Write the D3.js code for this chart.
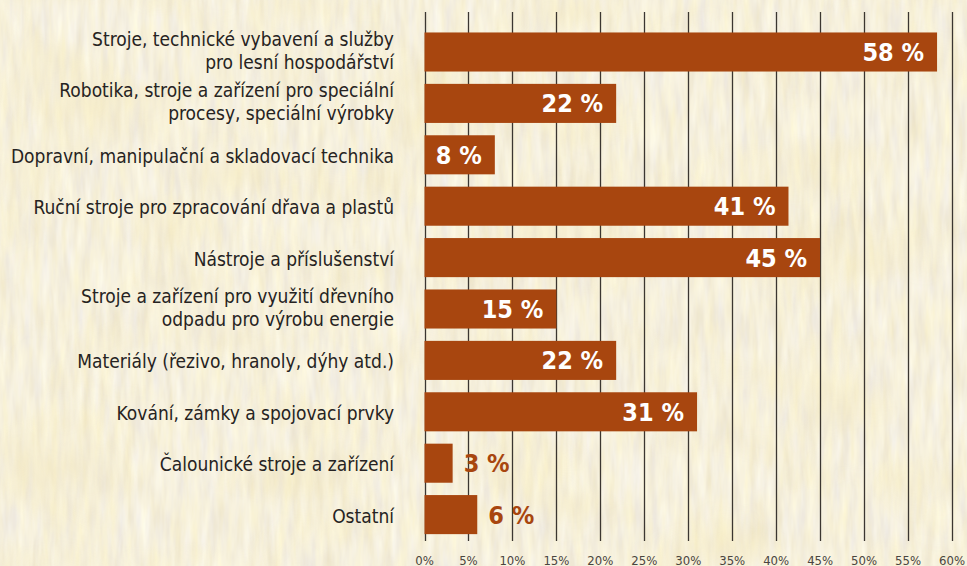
<!DOCTYPE html>
<html>
<head>
<meta charset="utf-8">
<script src="https://cdn.jsdelivr.net/npm/d3@7"></script>
<style>
  html, body { margin: 0; padding: 0; overflow: hidden; }
  svg { display: block; }
</style>
</head>
<body>
<div id="chart"></div>
<script>
var categories = [
    "Stroje, technické vybavení a služby\npro lesní hospodářství",
    "Robotika, stroje a zařízení pro speciální\nprocesy, speciální výrobky",
    "Dopravní, manipulační a skladovací technika",
    "Ruční stroje pro zpracování dřava a plastů",
    "Nástroje a příslušenství",
    "Stroje a zařízení pro využití dřevního\nodpadu pro výrobu energie",
    "Materiály (řezivo, hranoly, dýhy atd.)",
    "Kování, zámky a spojovací prvky",
    "Čalounické stroje a zařízení",
    "Ostatní"
];
var values = [58.3, 21.8, 8, 41.4, 45, 15, 21.8, 31, 3.2, 6];
var tickValues = [0, 5, 10, 15, 20, 25, 30, 35, 40, 45, 50, 55, 60];

var W = 967, H = 566;
var margin = { top: 12, left: 424.5, right: 15, bottom: 25 };

var svg = d3.select("#chart")
    .append("svg")
    .attr("width", W)
    .attr("height", H);

// paper background: fine vertical grain + soft yellow patches
var defs = svg.append("defs");
var f = defs.append("filter").attr("id", "paper")
    .attr("x", 0).attr("y", 0).attr("width", 1).attr("height", 1);
f.append("feTurbulence")
    .attr("type", "fractalNoise")
    .attr("baseFrequency", "0.12 0.02")
    .attr("numOctaves", 3)
    .attr("seed", 7)
    .attr("result", "n");
f.append("feColorMatrix")
    .attr("in", "n")
    .attr("type", "matrix")
    .attr("values",
        "0.22 0 0 0 0.82 " +
        "0.24 0.05 0 0 0.745 " +
        "0.14 0.28 0 0 0.54 " +
        "0 0 0 0 1");

var f2 = defs.append("filter").attr("id", "patch")
    .attr("x", 0).attr("y", 0).attr("width", 1).attr("height", 1);
f2.append("feTurbulence")
    .attr("type", "fractalNoise")
    .attr("baseFrequency", "0.008 0.014")
    .attr("numOctaves", 2)
    .attr("seed", 3)
    .attr("result", "m");
f2.append("feColorMatrix")
    .attr("in", "m")
    .attr("type", "matrix")
    .attr("values",
        "0 0 0 0 0.90 " +
        "0 0 0 0 0.80 " +
        "0 0 0 0 0.48 " +
        "2.2 0 0 0 -1.05");

svg.append("rect")
    .attr("width", W).attr("height", H)
    .attr("fill", "#efe0ba");
svg.append("rect")
    .attr("width", W).attr("height", H)
    .attr("filter", "url(#paper)")
    .attr("opacity", 0.9);
svg.append("rect")
    .attr("width", W).attr("height", H)
    .attr("filter", "url(#patch)")
    .attr("opacity", 0.5);

var x = d3.scaleLinear()
    .domain([0, 60])
    .range([margin.left, 952]);

var y = d3.scaleBand()
    .domain(categories)
    .range([26.3, 540.3])
    .paddingInner(0.24)
    .paddingOuter(0.12);

// grid lines
svg.append("g")
    .selectAll("line")
    .data(tickValues)
    .enter()
    .append("line")
    .attr("x1", function (d) { return Math.round(x(d)) + 0.5; })
    .attr("x2", function (d) { return Math.round(x(d)) + 0.5; })
    .attr("y1", 12)
    .attr("y2", 541)
    .attr("stroke", "#3b3631")
    .attr("stroke-width", 1.3);

// tick labels
svg.append("g")
    .selectAll("text")
    .data(tickValues)
    .enter()
    .append("text")
    .attr("x", function (d) { return x(d); })
    .attr("y", 565)
    .attr("text-anchor", "middle")
    .style("font-family", "'DejaVu Sans Condensed', 'DejaVu Sans'")
    .style("font-stretch", "condensed")
    .style("font-size", "13px")
    .style("fill", "#4a4540")
    .text(function (d) { return d + "%"; });

// bars
svg.append("g")
    .selectAll("rect")
    .data(values)
    .enter()
    .append("rect")
    .attr("x", x(0))
    .attr("y", function (d, i) { return y(categories[i]); })
    .attr("width", function (d) { return x(d) - x(0); })
    .attr("height", y.bandwidth())
    .attr("fill", "#a8460f");

// value labels
var valFs = 25;
function outside(d) { return x(d) < x(0) + 60; }
svg.append("g")
    .selectAll("text")
    .data(values)
    .enter()
    .append("text")
    .attr("x", function (d) { return outside(d) ? x(d) + 11 : x(d) - 13; })
    .attr("y", function (d, i) { return y(categories[i]) + y.bandwidth() / 2 + valFs * 0.36; })
    .attr("text-anchor", function (d) { return outside(d) ? "start" : "end"; })
    .style("font-family", "'DejaVu Sans Condensed', 'DejaVu Sans'")
    .style("font-stretch", "condensed")
    .style("font-weight", "bold")
    .style("font-size", valFs + "px")
    .style("fill", function (d) { return outside(d) ? "#a8460f" : "#ffffff"; })
    .text(function (d) { return Math.round(d) + " %"; });

// category labels
var lab = svg.append("g")
    .selectAll("text")
    .data(categories)
    .enter()
    .append("text")
    .attr("text-anchor", "end")
    .style("font-family", "'DejaVu Sans Condensed', 'DejaVu Sans'")
    .style("font-stretch", "condensed")
    .style("font-size", "19px")
    .style("fill", "#262322");

lab.each(function (d) {
    var lines = d.split("\n");
    var cy = y(d) + y.bandwidth() / 2;
    var t = d3.select(this);
    lines.forEach(function (l, j) {
        var base = lines.length === 1 ? cy + 8 : cy - 6 + j * 22.5;
        t.append("tspan")
            .attr("x", 394)
            .attr("y", base)
            .text(l);
    });
});
</script>
</body>
</html>
